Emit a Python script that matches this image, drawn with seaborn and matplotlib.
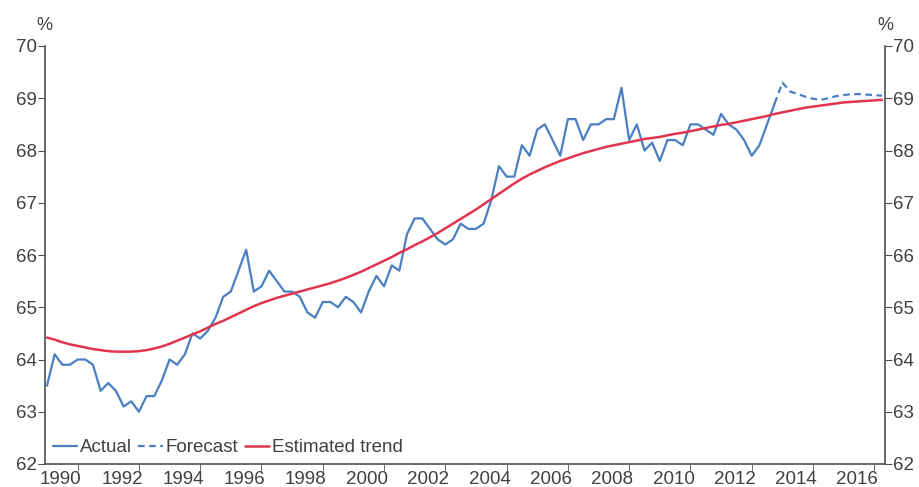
import numpy as np
import pandas as pd
import matplotlib
matplotlib.use("Agg")
import matplotlib.pyplot as plt
import seaborn as sns

# Quarterly series, 1990Q1 onwards
start_year = 1990
actual = [
    63.5, 64.1, 63.9, 63.9,
    64.0, 64.0, 63.9, 63.4,
    63.55, 63.4, 63.1, 63.2,
    63.0, 63.3, 63.3, 63.6,
    64.0, 63.9, 64.1, 64.5,
    64.4, 64.55, 64.8, 65.2,
    65.3, 65.7, 66.1, 65.3,
    65.4, 65.7, 65.5, 65.3,
    65.3, 65.2, 64.9, 64.8,
    65.1, 65.1, 65.0, 65.2,
    65.1, 64.9, 65.3, 65.6,
    65.4, 65.8, 65.7, 66.4,
    66.7, 66.7, 66.5, 66.3,
    66.2, 66.3, 66.6, 66.5,
    66.5, 66.6, 67.05, 67.7,
    67.5, 67.5, 68.1, 67.9,
    68.4, 68.5, 68.2, 67.9,
    68.6, 68.6, 68.2, 68.5,
    68.5, 68.6, 68.6, 69.2,
    68.2, 68.5, 68.0, 68.15,
    67.8, 68.2, 68.2, 68.1,
    68.5, 68.5, 68.4, 68.3,
    68.7, 68.5, 68.4, 68.2,
    67.9, 68.1, 68.5, 68.9,
]
forecast_start = 95  # quarter index where forecast begins (2013Q4)
forecast = [68.9, 69.3, 69.13, 69.08, 69.03, 68.99, 68.97, 69.0,
            69.04, 69.06, 69.08, 69.08, 69.07, 69.06, 69.05]
trend = [
    64.42, 64.38, 64.33, 64.29,
    64.26, 64.23, 64.20, 64.18,
    64.16, 64.15, 64.15, 64.15,
    64.16, 64.18, 64.21, 64.25,
    64.30, 64.36, 64.42, 64.48,
    64.54, 64.61, 64.68, 64.74,
    64.81, 64.88, 64.95, 65.02,
    65.08, 65.13, 65.18, 65.22,
    65.26, 65.30, 65.34, 65.38,
    65.42, 65.46, 65.51, 65.56,
    65.62, 65.68, 65.75, 65.82,
    65.89, 65.96, 66.04, 66.11,
    66.19, 66.26, 66.34, 66.42,
    66.51, 66.60, 66.69, 66.78,
    66.87, 66.97, 67.07, 67.17,
    67.27, 67.37, 67.46, 67.54,
    67.61, 67.68, 67.74, 67.80,
    67.85, 67.90, 67.95, 67.99,
    68.03, 68.07, 68.10, 68.13,
    68.16, 68.19, 68.22, 68.24,
    68.26, 68.29, 68.32, 68.34,
    68.37, 68.40, 68.43, 68.46,
    68.49, 68.51, 68.54, 68.57,
    68.60, 68.63, 68.66, 68.70,
    68.73, 68.76, 68.79, 68.82,
    68.84, 68.86, 68.88, 68.90,
    68.92, 68.93, 68.94, 68.95,
    68.96, 68.97,
]
tick_years = list(range(1990, 2017, 2))
y_ticks = [62, 63, 64, 65, 66, 67, 68, 69, 70]

# Build frames
t_act = [start_year + i / 4 for i in range(len(actual))]
t_fc = [start_year + (forecast_start + i) / 4 for i in range(len(forecast))]
t_tr = [start_year + i / 4 for i in range(len(trend))]
df_act = pd.DataFrame({"t": t_act, "v": actual})
df_fc = pd.DataFrame({"t": t_fc, "v": forecast})
df_tr = pd.DataFrame({"t": t_tr, "v": trend})

sns.set_style("ticks")
plt.rcParams["font.family"] = ["Liberation Sans", "DejaVu Sans"]

blue = "#4a7fc1"
red = "#e2344f"
txt = "#404040"
axc = "#505050"

fig = plt.figure(figsize=(9.19, 4.87), dpi=100)
ax = fig.add_axes([45 / 919, 1 - 464 / 487, (885 - 45) / 919, (464 - 46) / 487])

sns.lineplot(data=df_act, x="t", y="v", ax=ax, color=blue, lw=1.6, label="Actual")
sns.lineplot(data=df_fc, x="t", y="v", ax=ax, color=blue, lw=1.6, label="Forecast",
             dashes=False, linestyle=(0, (3, 2)))
sns.lineplot(data=df_tr, x="t", y="v", ax=ax, color=red, lw=1.8, label="Estimated trend")

ax.set_xlim(1989.935, 2017.35)
ax.set_ylim(62, 70)
ax.set_xlabel("")
ax.set_ylabel("")

# x labels centred within the year, tick marks at year boundaries
ax.set_xticks([y + 0.45 for y in tick_years])
ax.set_xticklabels([str(y) for y in tick_years], fontsize=13.5, color=txt)
ax.tick_params(axis="x", which="major", length=0, pad=5)
ax.set_xticks([y + 1 for y in tick_years], minor=True)
ax.tick_params(axis="x", which="minor", length=5, color=axc, direction="out")

ax.set_yticks(y_ticks)
ax.set_yticklabels([str(v) for v in y_ticks], fontsize=13.5, color=txt)
ax.tick_params(axis="y", length=5, color=axc, direction="out", pad=1,
               left=True, right=True, labelleft=True, labelright=True)

for s in ["left", "right", "bottom"]:
    ax.spines[s].set_visible(True)
    ax.spines[s].set_color(axc)
    ax.spines[s].set_linewidth(1.2)
ax.spines["top"].set_visible(False)

fig.text(44 / 919, 1 - 25 / 487, "%", fontsize=13, color=txt, ha="center", va="center")
fig.text(885 / 919, 1 - 25 / 487, "%", fontsize=13, color=txt, ha="center", va="center")

leg = ax.legend(loc="lower left", ncol=3, frameon=False, fontsize=13.5,
                handlelength=1.3, handletextpad=0.15, columnspacing=0.35,
                borderaxespad=0.0, bbox_to_anchor=(0.0, 0.0))
for t in leg.get_texts():
    t.set_color(txt)

fig.savefig("out.png", dpi=100)
